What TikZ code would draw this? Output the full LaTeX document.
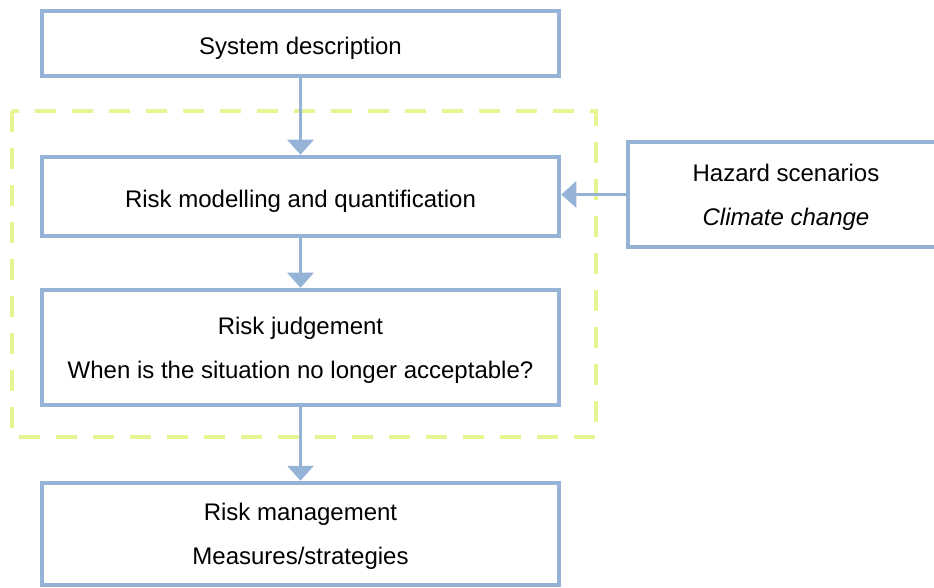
\documentclass[tikz,border=0pt]{standalone}
\usepackage{fontspec}
\setmainfont{Liberation Sans}
\usetikzlibrary{arrows.meta}
\usetikzlibrary{positioning}
\usetikzlibrary{calc}
\definecolor{stageblue}{RGB}{149,179,215}
\definecolor{framegreen}{RGB}{232,244,146}
\tikzstyle{stage} = [rectangle, draw=stageblue, line width=4.5pt, fill=white,
    minimum width=517pt, align=center, text depth=0pt,
    font=\fontsize{24}{44}\selectfont]
\tikzstyle{oneline} = [text height=23pt]
\tikzstyle{flow} = [draw=stageblue, line width=3.2pt,
    -{Triangle[width=26pt,length=15pt]}]
\tikzstyle{riskframe} = [draw=framegreen, line width=4.5pt,
    dash pattern=on 21pt off 16pt]

\begin{document}
\begin{tikzpicture}[x=1pt, y=1pt]
\clip (0,0) rectangle (934,587);
% Place nodes
\node [stage, oneline, minimum height=65pt] (system) at (300.5,543.5)
    {System description};
\node [stage, oneline, minimum height=79pt, below=76.5pt of system] (modelling)
    {Risk modelling and quantification};
\node [stage, minimum height=115pt, below=49.5pt of modelling] (judgement)
    {Risk judgement\\When is the situation no longer acceptable?};
\node [stage, minimum height=102pt, below=73.5pt of judgement] (management)
    {Risk management\\Measures/strategies};

\node [stage, minimum width=316pt, minimum height=105pt,
    right=64.5pt of modelling, yshift=2pt] (hazard)
    {Hazard scenarios\\\textit{Climate change}};

% Risk analysis frame
\draw [riskframe] ($(modelling.north west)+(-27.75pt,43.75pt)$) rectangle
    ($(judgement.south east)+(34.75pt,-29.75pt)$);

% Draw edges
\path [flow] (system) -- (modelling);
\path [flow] (modelling) -- (judgement);
\path [flow] (judgement) -- (management);
\path [flow] (hazard.west) -- (hazard.west -| modelling.east);

\end{tikzpicture}
\end{document}
